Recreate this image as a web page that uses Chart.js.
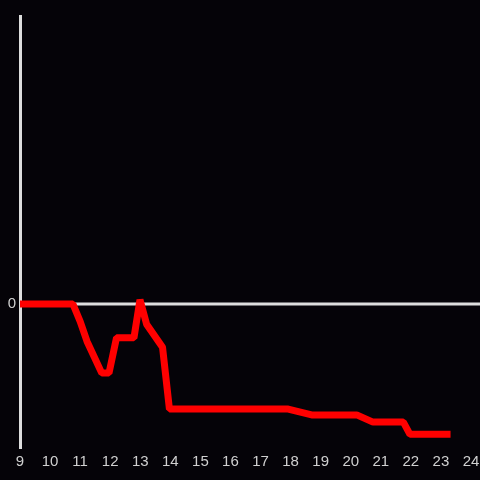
<!DOCTYPE html>
<html>
<head>
<meta charset="utf-8">
<script src="https://cdn.jsdelivr.net/npm/chart.js@4"></script>
<style>
    html, body { margin: 0; padding: 0; background: #050308; }
    #wrap { width: 480px; height: 480px; }
</style>
</head>
<body>
<div id="wrap"><canvas id="chart"></canvas></div>
<script>
// heures (axe x) et valeurs
const hours = [9, 10.76, 11.0, 11.23, 11.72, 11.96, 12.21, 12.79, 12.99, 13.21, 13.74, 13.97, 17.92, 18.7, 20.2, 20.74, 21.75, 21.97, 23.32];
const values = [0, 0, -0.12, -0.26, -0.48, -0.48, -0.235, -0.235, 0.03, -0.14, -0.30, -0.73, -0.73, -0.77, -0.77, -0.82, -0.82, -0.905, -0.905];
const xTicks = [9, 10, 11, 12, 13, 14, 15, 16, 17, 18, 19, 20, 21, 22, 23, 24];
const yTicks = [0];

const points = hours.map((h, i) => ({ x: h, y: values[i] }));

// Ligne du zéro, prolongée jusqu'au bord droit du canvas
const zeroLine = {
    id: 'zeroLine',
    beforeDatasetsDraw(chart) {
        const ctx = chart.ctx;
        const y = chart.scales.y.getPixelForValue(0);
        ctx.save();
        ctx.strokeStyle = '#dddddd';
        ctx.lineWidth = 3;
        ctx.beginPath();
        ctx.moveTo(chart.chartArea.left, y);
        ctx.lineTo(chart.width, y);
        ctx.stroke();
        ctx.restore();
    }
};

const tickFont = { family: 'Liberation Sans', size: 15 };

new Chart(document.getElementById('chart'), {
    type: 'line',
    data: {
        datasets: [{
            data: points,
            borderColor: '#ff0000',
            borderWidth: 7,
            borderJoinStyle: 'bevel',
            pointRadius: 0,
            tension: 0,
            fill: false
        }]
    },
    options: {
        responsive: true,
        maintainAspectRatio: false,
        animation: false,
        layout: { padding: { top: 16, right: 0, left: 0, bottom: 0 } },
        scales: {
            x: {
                type: 'linear',
                min: 9,
                max: 24,
                afterBuildTicks: scale => { scale.ticks = xTicks.map(v => ({ value: v })); },
                afterFit: scale => {
                    scale.height = 32;
                    scale.paddingLeft = 0;
                    scale.paddingRight = 9;
                },
                grid: { display: false, drawTicks: false },
                border: { display: false },
                ticks: {
                    color: '#d0d0d0',
                    font: tickFont,
                    padding: 5,
                    maxRotation: 0,
                    autoSkip: false
                }
            },
            y: {
                min: -1,
                max: 2,
                afterBuildTicks: scale => { scale.ticks = yTicks.map(v => ({ value: v })); },
                afterFit: scale => { scale.width = 20; },
                grid: { display: false, drawTicks: false },
                border: { display: true, color: '#dddddd', width: 3 },
                ticks: {
                    color: '#d0d0d0',
                    font: tickFont,
                    padding: 4
                }
            }
        },
        plugins: {
            legend: { display: false },
            tooltip: { enabled: false }
        }
    },
    plugins: [zeroLine]
});
</script>
</body>
</html>
